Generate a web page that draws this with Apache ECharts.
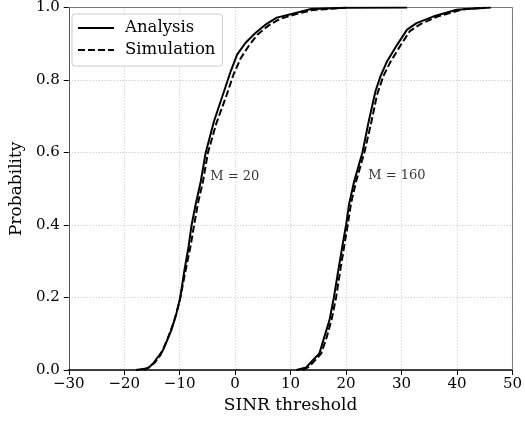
<!DOCTYPE html>
<html>
<head>
<meta charset="utf-8">
<script src="https://cdn.jsdelivr.net/npm/echarts@6/dist/echarts.min.js"></script>
<style>html,body{margin:0;padding:0;background:#fff}#c{width:525px;height:424px}</style>
</head>
<body>
<div id="c"></div>
<script>
// Data: [SINR threshold, probability]
const analysisM20 = [[-17.9,0],[-15.7,0.005],[-14.8,0.018],[-13,0.055],[-11.5,0.11],[-10.6,0.155],[-9.9,0.2],[-9.15,0.275],[-8.4,0.34],[-7.85,0.4],[-7.1,0.458],[-6.2,0.52],[-5.3,0.6],[-3.8,0.687],[-2.0,0.769],[-0.8,0.824],[0.35,0.87],[1.85,0.902],[3.6,0.929],[5.4,0.952],[7.5,0.972],[10.2,0.982],[13.7,0.996],[20,0.999],[31,1.0]];
const simulationM20 = [[-16.5,0],[-15.5,0.008],[-14.5,0.02],[-13.5,0.04],[-12.2,0.085],[-11,0.135],[-10,0.19],[-9,0.27],[-8,0.345],[-7.4,0.4],[-6.7,0.46],[-5.8,0.52],[-4.9,0.6],[-3.4,0.68],[-1.5,0.76],[-0.3,0.815],[1,0.86],[2.5,0.895],[4,0.925],[6,0.95],[8,0.968],[11,0.982],[14,0.993],[20,1.0]];
const analysisM160 = [[11.05,0],[12.8,0.007],[14.0,0.027],[15.2,0.046],[16.1,0.092],[17.0,0.137],[17.8,0.2],[18.5,0.266],[19.4,0.348],[20.0,0.4],[20.55,0.458],[21.45,0.52],[22.95,0.6],[24.1,0.687],[25.3,0.769],[26.2,0.81],[27.4,0.852],[29.2,0.897],[31.0,0.939],[32.7,0.957],[35.7,0.975],[39.9,0.994],[46.1,1.0]];
const simulationM160 = [[12.2,0],[13.2,0.008],[14.3,0.025],[15.5,0.045],[16.5,0.09],[17.4,0.14],[18.2,0.2],[18.9,0.27],[19.7,0.345],[20.3,0.4],[20.9,0.46],[21.8,0.52],[23.3,0.6],[24.5,0.68],[25.6,0.76],[26.7,0.81],[28,0.85],[29.8,0.895],[31.5,0.935],[33.5,0.955],[36.5,0.975],[41,0.995],[45,1.0]];
const annotations = [[-4.5,0.533,'M = 20'],[24.0,0.536,'M = 160']];
const xTicks = {min:-30, max:50, interval:10};
const yTicks = {min:0, max:1, interval:0.2};

const FONT = 'DejaVu Serif';
const chart = echarts.init(document.getElementById('c'), null, {renderer:'canvas'});
const solid = {color:'#000', width:2, type:'solid'};
const dashed = {color:'#000', width:2, type:[7,3]};
function line(name, data, ls){
  return {name, type:'line', data, symbol:'none', showSymbol:false, lineStyle:ls, itemStyle:{color:'#000'}, animation:false, z:3};
}
chart.setOption({
  animation:false,
  textStyle:{fontFamily:FONT},
  grid:{left:65, right:11, top:6, bottom:54},
  legend:{
    left:72, top:14, orient:'vertical', backgroundColor:'#fff', borderColor:'#ccc', borderWidth:1, borderRadius:3,
    padding:[4,7,6,5], itemGap:2, itemWidth:36, itemHeight:20,
    itemStyle:{opacity:0},
    textStyle:{fontFamily:FONT, fontSize:16.5, color:'#000', lineHeight:20, padding:[0,0,0,6]},
    data:['Analysis','Simulation']
  },
  xAxis:{
    type:'value', min:xTicks.min, max:xTicks.max, interval:xTicks.interval,
    name:'SINR threshold', nameLocation:'middle', nameGap:26,
    nameTextStyle:{fontFamily:FONT, fontSize:17, color:'#000'},
    axisLine:{show:true, onZero:false, lineStyle:{color:'#000', width:1.5}},
    axisTick:{show:true, inside:false, length:5, lineStyle:{color:'#000'}},
    axisLabel:{margin:7, fontFamily:FONT, fontSize:15, color:'#000', formatter:v=> v<0 ? '\u2212'+Math.abs(v) : String(v)},
    splitLine:{show:true, lineStyle:{color:'#c0c0c0', type:[1,2], width:1}}
  },
  yAxis:{
    type:'value', min:yTicks.min, max:yTicks.max, interval:yTicks.interval,
    name:'Probability', nameLocation:'middle', nameGap:31,
    nameTextStyle:{fontFamily:FONT, fontSize:17, color:'#000'},
    axisLine:{show:true, onZero:false, lineStyle:{color:'#555', width:1}},
    axisTick:{show:true, inside:false, length:5, lineStyle:{color:'#000'}},
    axisLabel:{margin:9, fontFamily:FONT, fontSize:15, color:'#000', formatter:v=>v.toFixed(1)},
    splitLine:{show:true, lineStyle:{color:'#c0c0c0', type:[1,2], width:1}}
  },
  graphic:[],
  series:[
    line('Analysis', analysisM20, solid),
    line('Simulation', simulationM20, dashed),
    line('Analysis', analysisM160, solid),
    line('Simulation', simulationM160, dashed),
    {type:'scatter', data:annotations, symbolSize:0, silent:true, animation:false,
     label:{show:true, position:'right', distance:0, formatter:p=>p.data[2], fontFamily:FONT, fontSize:13, color:'#000', textBorderWidth:0}}
  ]
});
// top and right frame lines from grid rect
const r = chart.getModel().getComponent('grid').coordinateSystem.getRect();
chart.setOption({graphic:[
  {type:'line', shape:{x1:r.x, y1:r.y, x2:r.x+r.width, y2:r.y}, style:{stroke:'#777', lineWidth:1}, z:1, silent:true},
  {type:'line', shape:{x1:r.x+r.width, y1:r.y, x2:r.x+r.width, y2:r.y+r.height}, style:{stroke:'#777', lineWidth:1}, z:1, silent:true}
]});
</script>
</body>
</html>
